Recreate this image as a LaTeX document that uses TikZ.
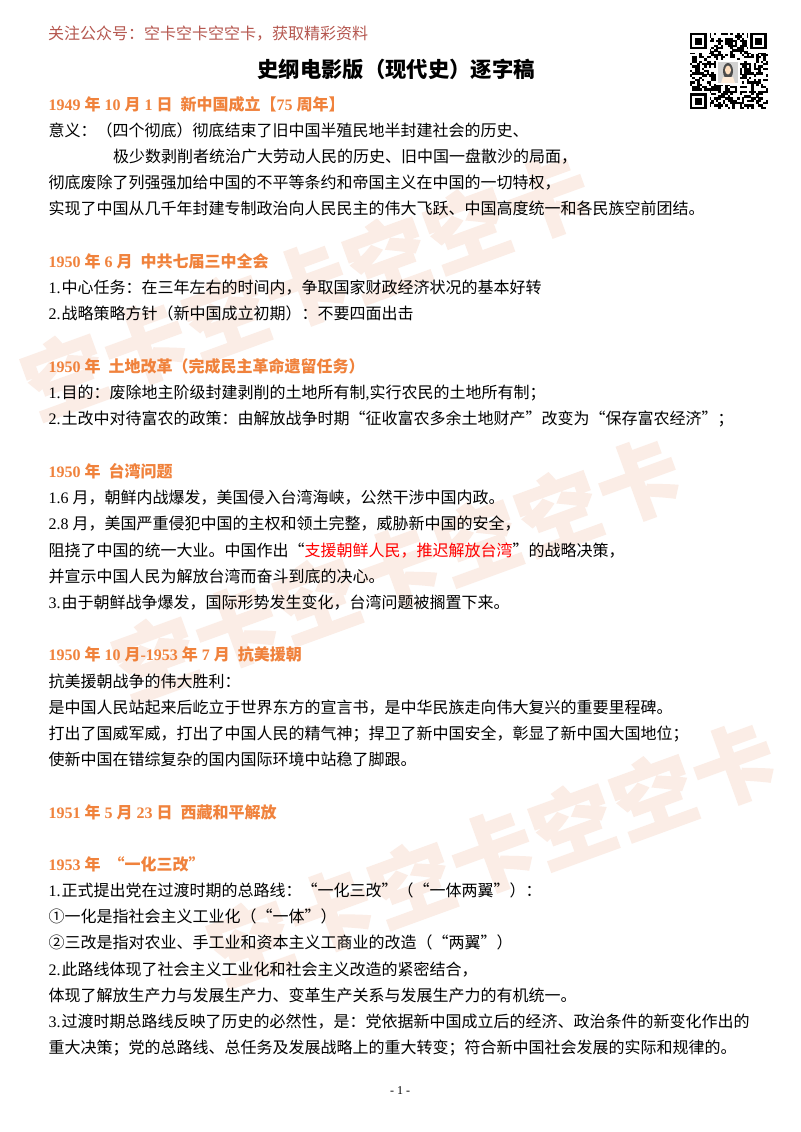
\documentclass[tikz,border=0pt]{standalone}
\usepackage{fontspec}
\setmainfont{Noto Sans CJK SC}
\newfontfamily\lat{Liberation Serif}
\newfontfamily\wmfont[BoldFeatures={FakeBold=2}]{Noto Sans CJK SC}
\newcommand\la[1]{{\lat #1}}
\newcommand\nm[1]{{\lat #1}\kern.75pt}
\newcommand\gap{{\lat\ \ }}
\definecolor{hd}{HTML}{F0823C}
\definecolor{wm}{HTML}{FBEDE6}
\definecolor{top}{HTML}{B5574F}
\definecolor{rd}{HTML}{FF0000}
\tikzset{
  txtline/.style={anchor=base west,inner sep=0pt,outer sep=0pt,font=\fontsize{12}{14}\selectfont,text=black,yshift=-4.9pt},
  headline/.style={txtline,font=\fontsize{12}{14}\selectfont\bfseries,text=hd},
  wmchar/.style={inner sep=0pt,outer sep=0pt,font=\wmfont\fontsize{62}{62}\selectfont\bfseries,text=wm},
}
\usetikzlibrary{calc}
\newcommand\wmrun[3]{% centre x, centre y, name
  \foreach \c/\k in {空/-3,卡/-2,空/-1,卡/0,空/1,空/2,卡/3}{
    \node[wmchar,rotate=20] (#3\k) at ($(#1,#2)+({\k*80.5},{-\k*29.3})$) {\c};
  }}
\begin{document}
\begin{tikzpicture}[x=0.75pt,y=-0.75pt]
\useasboundingbox (0,0) rectangle (800,1132);
\fill[white] (0,0) rectangle (800,1132);
% watermark
\wmrun{306}{286}{wa}
\wmrun{397}{569}{wb}
\wmrun{492}{853}{wc}
% QR code
\pgfmathsetseed{4242}
\foreach \i in {0,...,32}{\foreach \j in {0,...,32}{
  \pgfmathrandominteger{\r}{0}{99}
  \ifnum\r<48
    \fill[black] ({690+\i*2.36},{33+\j*2.3}) rectangle ++(2.45,2.4);
  \fi
}}
\foreach \px/\py in {690/33,750.1/33,690/93.2}{
  \fill[white] (\px-2,\py-2) rectangle ++(22,22);
  \fill[black] (\px,\py) rectangle ++(16.5,16.1);
  \fill[white] (\px+2.4,\py+2.3) rectangle ++(11.7,11.5);
  \fill[black] (\px+4.7,\py+4.6) rectangle ++(7.1,6.9);
}
\fill[white] (716,60) rectangle (740,85);
\fill[gray!35] (718,62) rectangle (738,83);
\fill[black!70] (728,71) ellipse (5 and 8);
\fill[orange!25!white] (728,70) ellipse (3 and 4.5);
\fill[orange!15!white] (721,83) -- (723,77) -- (733,77) -- (735,83) -- cycle;
% text
\node[txtline,font=\fontsize{12}{14}\selectfont,text=top] (t0) at (48,33) {关注公众号：空卡空卡空空卡，获取精彩资料};
\node[txtline,font=\fontsize{16}{18}\selectfont\bfseries,anchor=base] (t1) at (396,71) {史纲电影版（现代史）逐字稿};
\node[headline] (h1) at (48.6,104) {\la{1949 }年\la{ 10 }月\la{ 1 }日\gap 新中国成立【\la{75 }周年】};
\node[txtline] (a1) at (48.6,130) {意义：（四个彻底）彻底结束了旧中国半殖民地半封建社会的历史、};
\node[txtline] (a2) at (113,156) {极少数剥削者统治广大劳动人民的历史、旧中国一盘散沙的局面，};
\node[txtline] (a3) at (48.6,182) {彻底废除了列强强加给中国的不平等条约和帝国主义在中国的一切特权，};
\node[txtline] (a4) at (48.6,208) {实现了中国从几千年封建专制政治向人民民主的伟大飞跃、中国高度统一和各民族空前团结。};
\node[headline] (h2) at (48.6,261) {\la{1950 }年\la{ 6 }月\gap 中共七届三中全会};
\node[txtline] (b1) at (48.6,287) {\nm{1.}中心任务：在三年左右的时间内，争取国家财政经济状况的基本好转};
\node[txtline] (b2) at (48.6,313) {\nm{2.}战略策略方针（新中国成立初期）：不要四面出击};
\node[headline] (h3) at (48.6,366) {\la{1950 }年\gap 土地改革（完成民主革命遗留任务）};
\node[txtline] (c1) at (48.6,392) {\nm{1.}目的：废除地主阶级封建剥削的土地所有制\la{,}实行农民的土地所有制；};
\node[txtline] (c2) at (48.6,418) {\nm{2.}土改中对待富农的政策：由解放战争时期“征收富农多余土地财产”改变为“保存富农经济”；};
\node[headline] (h4) at (48.6,471) {\la{1950 }年\gap 台湾问题};
\node[txtline] (d1) at (48.6,497) {\la{1.6 }月，朝鲜内战爆发，美国侵入台湾海峡，公然干涉中国内政。};
\node[txtline] (d2) at (48.6,523) {\la{2.8 }月，美国严重侵犯中国的主权和领土完整，威胁新中国的安全，};
\node[txtline] (d3) at (48.6,550) {阻挠了中国的统一大业。中国作出“\textcolor{rd}{支援朝鲜人民，推迟解放台湾}”的战略决策，};
\node[txtline] (d4) at (48.6,576) {并宣示中国人民为解放台湾而奋斗到底的决心。};
\node[txtline] (d5) at (48.6,602) {\nm{3.}由于朝鲜战争爆发，国际形势发生变化，台湾问题被搁置下来。};
\node[headline] (h5) at (48.6,654) {\la{1950 }年\la{ 10 }月\la{-1953 }年\la{ 7 }月\gap 抗美援朝};
\node[txtline] (e1) at (48.6,681) {抗美援朝战争的伟大胜利：};
\node[txtline] (e2) at (48.6,707) {是中国人民站起来后屹立于世界东方的宣言书，是中华民族走向伟大复兴的重要里程碑。};
\node[txtline] (e3) at (48.6,733) {打出了国威军威，打出了中国人民的精气神；捍卫了新中国安全，彰显了新中国大国地位；};
\node[txtline] (e4) at (48.6,759) {使新中国在错综复杂的国内国际环境中站稳了脚跟。};
\node[headline] (h6) at (48.6,812) {\la{1951 }年\la{ 5 }月\la{ 23 }日\gap 西藏和平解放};
\node[headline] (h7) at (48.6,864) {\la{1953 }年\gap “一化三改”};
\node[txtline] (f1) at (48.6,890) {\nm{1.}正式提出党在过渡时期的总路线：“一化三改”（“一体两翼”）：};
\node[txtline] (f2) at (48.6,916) {①一化是指社会主义工业化（“一体”）};
\node[txtline] (f3) at (48.6,942) {②三改是指对农业、手工业和资本主义工商业的改造（“两翼”）};
\node[txtline] (f4) at (48.6,969) {\nm{2.}此路线体现了社会主义工业化和社会主义改造的紧密结合，};
\node[txtline] (f5) at (48.6,995) {体现了解放生产力与发展生产力、变革生产关系与发展生产力的有机统一。};
\node[txtline] (f6) at (48.6,1021) {\nm{3.}过渡时期总路线反映了历史的必然性，是：党依据新中国成立后的经济、政治条件的新变化作出的};
\node[txtline] (f7) at (48.6,1047) {重大决策；党的总路线、总任务及发展战略上的重大转变；符合新中国社会发展的实际和规律的。};
\node[txtline,font=\fontsize{9}{11}\selectfont\lat,anchor=base] (pg) at (400,1088) {- 1 -};
\end{tikzpicture}
\end{document}
